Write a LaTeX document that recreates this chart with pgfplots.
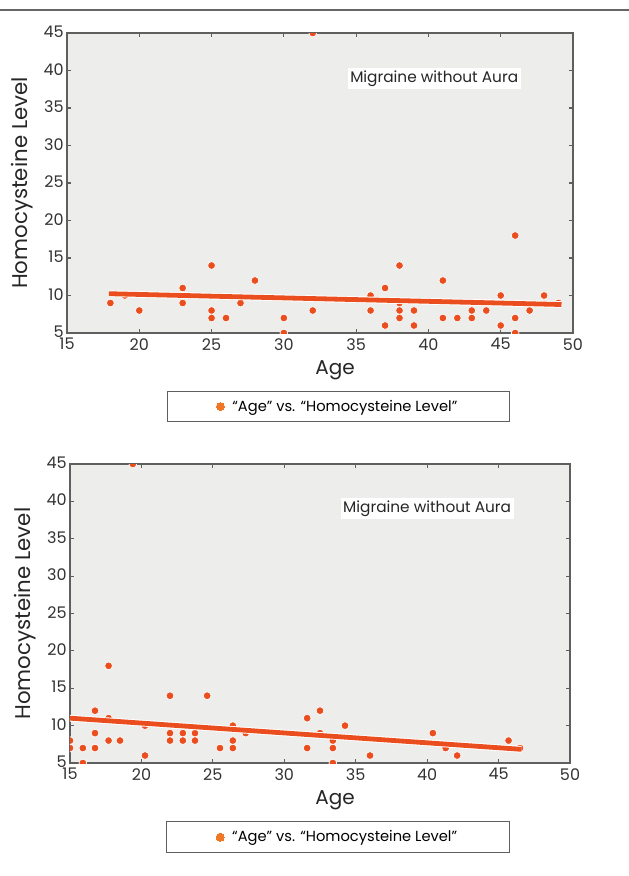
\documentclass[border=0pt]{standalone}
\usepackage{pgfplots}
\pgfplotsset{compat=1.18}
\usepackage{fontspec}
\setmainfont{Poppins}
\definecolor{bgc}{RGB}{237,237,235}
\definecolor{ptc}{RGB}{234,78,30}
\definecolor{legc}{RGB}{240,118,40}
\definecolor{frame}{RGB}{95,95,95}
\pgfplotsset{
  mystyle/.style={
    scale only axis,
    clip marker paths=true,
    xmin=15, xmax=50, ymin=5, ymax=45,
    xtick={15,20,...,50}, ytick={5,10,...,45},
    tick align=inside, xtick pos=both, ytick pos=both,
    xticklabel pos=lower, yticklabel pos=left,
    major tick length=3pt,
    tick style={draw=frame, line width=0.8pt},
    axis line style={draw=frame, line width=1.5pt},
    axis background/.style={fill=bgc},
    /pgf/number format/assume math mode=true,
    tick label style={font=\fontsize{12}{14}\selectfont, text=black!80},
    yticklabel style={xshift=1pt, yshift=1pt},
    xticklabel style={yshift=-0.5pt},
    label style={text=black!85},
    ylabel={Homocysteine Level},
    xlabel={Age},
    xlabel style={font=\fontsize{15}{17}\selectfont, at={(axis description cs:0.53,-0.125)}, anchor=center},
    ylabel style={font=\fontsize{16}{18}\selectfont, at={(axis description cs:-0.089,0.5)}, anchor=center},
    legend style={at={(axis description cs:0.536,-0.245)}, anchor=center,
      draw=frame, line width=0.8pt, fill=white, inner xsep=37pt, inner ysep=4.5pt,
      font=\fontsize{11}{13}\selectfont},
    legend cell align=left,
  }
}
\begin{document}
\begin{tikzpicture}
\path[use as bounding box] (0,0) rectangle (471.75pt,-657pt);
\draw[draw=gray!80!black, line width=1pt] (0,-7.5pt) -- (471.75pt,-7.5pt);
\begin{axis}[mystyle, at={(50.25pt,-24.75pt)}, anchor=north west, width=379.5pt, height=225pt]
\addlegendimage{only marks, mark=*, mark size=3pt, mark options={fill=legc, draw=legc, line width=0pt}}
\addlegendentry{\hspace{4pt}“Age” vs. “Homocysteine Level”}
\addplot[only marks, mark=*, mark size=2.9pt, mark options={fill=ptc, draw=white, line width=0.5pt}, forget plot] coordinates {
(18,9) (19,10) (20,8) (23,11) (23,9) (25,14) (25,8) (25,7) (26,7) (27,9) (28,12)
(30,7) (30,5) (32,45) (32,8) (36,10) (36,8) (37,11) (37,6) (38,14) (38,9) (38,8) (38,7)
(39,8) (39,6) (41,12) (41,7) (42,7) (43,8) (43,7) (44,8) (45,10) (45,6) (46,18)
(46,7) (46,5) (47,8) (48,10) (49,9)
};
\addplot[draw=white, line width=5pt, forget plot] coordinates {(17.9,10.24) (49.2,8.8)};
\addplot[draw=ptc, line width=3.6pt, forget plot] coordinates {(17.9,10.24) (49.2,8.8)};
\node[fill=white, inner sep=2pt, font=\fontsize{11.5}{13}\selectfont, text=black!85] at (axis cs:40.4,38.9) {Migraine without Aura};
\end{axis}
\begin{axis}[mystyle, at={(52.5pt,-348pt)}, anchor=north west, width=375pt, height=224.25pt,
  legend style={at={(axis description cs:0.536,-0.248)}}]
\addlegendimage{only marks, mark=*, mark size=3pt, mark options={fill=legc, draw=legc, line width=0pt}}
\addlegendentry{\hspace{4pt}“Age” vs. “Homocysteine Level”}
\addplot[only marks, mark=*, mark size=2.9pt, mark options={fill=ptc, draw=white, line width=0.5pt}, forget plot] coordinates {
(15,8) (15,7) (15.9,7) (15.9,5) (16.75,12) (16.75,9) (16.75,7) (17.7,18) (17.7,11) (17.7,8)
(18.5,8) (19.4,45) (20.25,10) (20.25,6) (22,14) (22,9) (22,8) (22.9,9) (22.9,8)
(23.75,9) (23.75,8) (24.6,14) (25.5,7) (26.4,10) (26.4,8) (26.4,7) (27.3,9)
(31.6,11) (31.6,7) (32.5,12) (32.5,9) (33.4,8) (33.4,7) (33.4,5) (34.25,10) (36,6)
(40.4,9) (41.3,7) (42.1,6) (45.7,8) (46.5,7)
};
\addplot[draw=white, line width=5pt, forget plot] coordinates {(15,11.0) (46.6,6.83)};
\addplot[draw=ptc, line width=3.6pt, forget plot] coordinates {(15,11.0) (46.6,6.83)};
\node[fill=white, inner sep=2pt, font=\fontsize{11.5}{13}\selectfont, text=black!85] at (axis cs:40,39) {Migraine without Aura};
\end{axis}
\end{tikzpicture}
\end{document}
